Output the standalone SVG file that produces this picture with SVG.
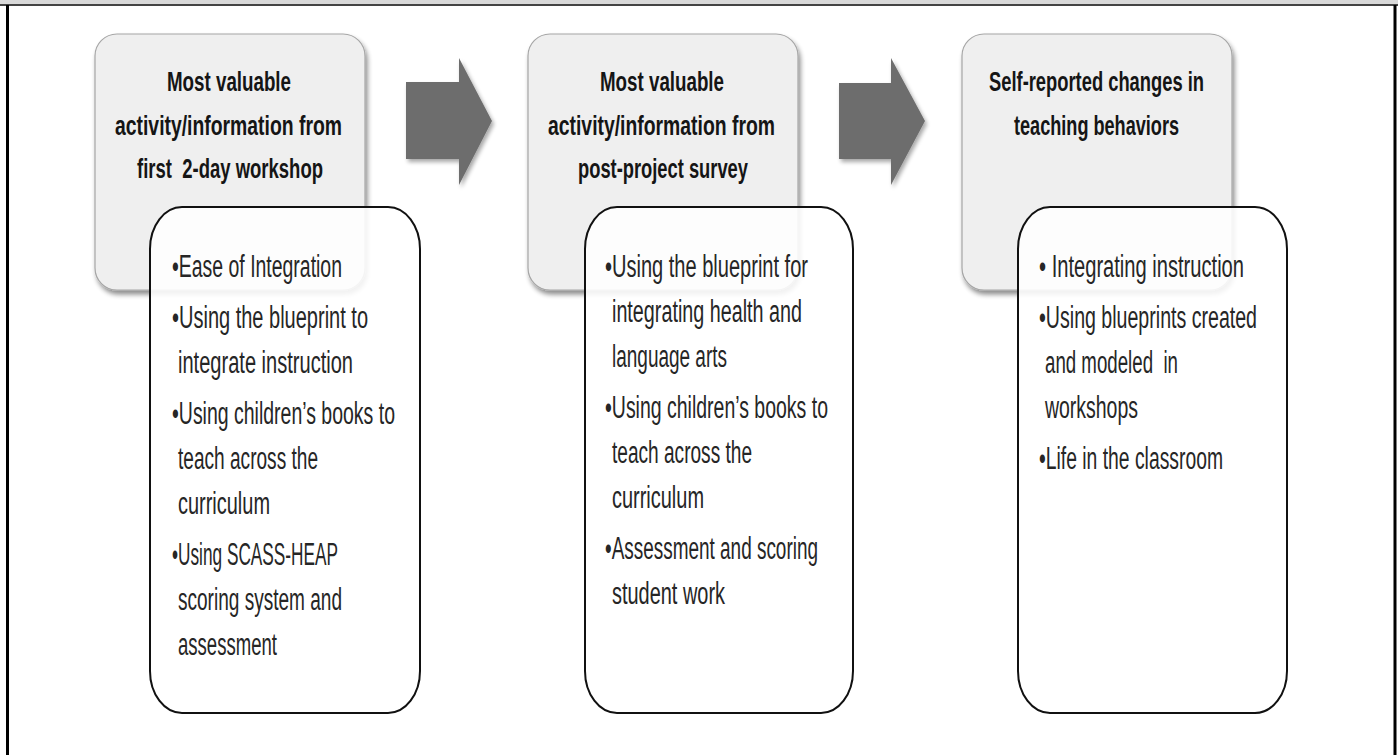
<svg xmlns="http://www.w3.org/2000/svg" width="1398" height="755" viewBox="0 0 1398 755">
<defs>
<filter id="sh" x="-10%" y="-10%" width="125%" height="130%">
<feGaussianBlur in="SourceAlpha" stdDeviation="2.5"/>
<feOffset dx="2" dy="4" result="b"/>
<feComponentTransfer><feFuncA type="linear" slope="0.45"/></feComponentTransfer>
<feMerge><feMergeNode/><feMergeNode in="SourceGraphic"/></feMerge>
</filter>
<filter id="ash" x="-20%" y="-20%" width="150%" height="150%">
<feGaussianBlur in="SourceAlpha" stdDeviation="2"/>
<feOffset dx="2" dy="3" result="b"/>
<feComponentTransfer><feFuncA type="linear" slope="0.35"/></feComponentTransfer>
<feMerge><feMergeNode/><feMergeNode in="SourceGraphic"/></feMerge>
</filter>
</defs>
<style>
text{white-space:pre}
.head{fill:#efefef;stroke:#a6a6a6;stroke-width:1.2}
.list{fill:#ffffff;fill-opacity:0.88;stroke:#111;stroke-width:2}
.t{font-family:"Liberation Sans",Arial,sans-serif;font-weight:bold;font-size:28px;fill:#151515}
.b{font-family:"Liberation Sans",Arial,sans-serif;font-size:31px;fill:#262626}
.arrow{fill:#6d6d6d}
</style>
<rect x="0" y="0" width="1398" height="755" fill="#ffffff"/>
<g id="frame">
<rect x="0" y="0" width="1398" height="5" fill="#d9d9d9"/>
<line x1="0" y1="5" x2="1398" y2="5" stroke="#444" stroke-width="2"/>
<line x1="7.5" y1="5" x2="7.5" y2="755" stroke="#000" stroke-width="3"/>
<line x1="1395" y1="5" x2="1395" y2="755" stroke="#000" stroke-width="3"/>
</g>
<g id="connectors">
<polygon class="arrow" filter="url(#ash)" points="406,82 459,82 459,58 492,121 459,185 459,159 406,159"/>
<polygon class="arrow" filter="url(#ash)" points="839,83 891,83 891,58 925,121 891,185 891,159 839,159"/>
</g>
<g id="node1">
<rect class="head" filter="url(#sh)" x="95" y="34" width="270" height="256" rx="22" ry="22"/>
<text class="t" x="167" y="91" textLength="124" lengthAdjust="spacingAndGlyphs">Most valuable</text>
<text class="t" x="115" y="135" textLength="227" lengthAdjust="spacingAndGlyphs">activity/information from</text>
<text class="t" x="137" y="178" textLength="186" lengthAdjust="spacingAndGlyphs">first  2-day workshop</text>
<rect class="list" x="150" y="207" width="270" height="506" rx="32" ry="42"/>
<text class="b" x="172" y="277" textLength="170" lengthAdjust="spacingAndGlyphs">•Ease of Integration</text>
<text class="b" x="172" y="328" textLength="196" lengthAdjust="spacingAndGlyphs">•Using the blueprint to</text>
<text class="b" x="178" y="373" textLength="175" lengthAdjust="spacingAndGlyphs">integrate instruction</text>
<text class="b" x="172" y="424" textLength="223" lengthAdjust="spacingAndGlyphs">•Using children’s books to</text>
<text class="b" x="178" y="469" textLength="140" lengthAdjust="spacingAndGlyphs">teach across the</text>
<text class="b" x="178" y="514" textLength="92" lengthAdjust="spacingAndGlyphs">curriculum</text>
<text class="b" x="172" y="565" textLength="166" lengthAdjust="spacingAndGlyphs">•Using SCASS-HEAP</text>
<text class="b" x="178" y="610" textLength="164" lengthAdjust="spacingAndGlyphs">scoring system and</text>
<text class="b" x="178" y="655" textLength="99" lengthAdjust="spacingAndGlyphs">assessment</text>
</g>
<g id="node2">
<rect class="head" filter="url(#sh)" x="528" y="34" width="270" height="256" rx="22" ry="22"/>
<text class="t" x="600" y="91" textLength="124" lengthAdjust="spacingAndGlyphs">Most valuable</text>
<text class="t" x="548" y="135" textLength="227" lengthAdjust="spacingAndGlyphs">activity/information from</text>
<text class="t" x="578" y="178" textLength="170" lengthAdjust="spacingAndGlyphs">post-project survey</text>
<rect class="list" x="585" y="207" width="268" height="506" rx="32" ry="42"/>
<text class="b" x="605" y="277" textLength="203" lengthAdjust="spacingAndGlyphs">•Using the blueprint for</text>
<text class="b" x="612" y="322" textLength="190" lengthAdjust="spacingAndGlyphs">integrating health and</text>
<text class="b" x="612" y="367" textLength="115" lengthAdjust="spacingAndGlyphs">language arts</text>
<text class="b" x="605" y="418" textLength="223" lengthAdjust="spacingAndGlyphs">•Using children’s books to</text>
<text class="b" x="612" y="463" textLength="140" lengthAdjust="spacingAndGlyphs">teach across the</text>
<text class="b" x="612" y="508" textLength="92" lengthAdjust="spacingAndGlyphs">curriculum</text>
<text class="b" x="605" y="559" textLength="213" lengthAdjust="spacingAndGlyphs">•Assessment and scoring</text>
<text class="b" x="612" y="604" textLength="113" lengthAdjust="spacingAndGlyphs">student work</text>
</g>
<g id="node3">
<rect class="head" filter="url(#sh)" x="962" y="34" width="270" height="256" rx="22" ry="22"/>
<text class="t" x="989" y="91" textLength="215" lengthAdjust="spacingAndGlyphs">Self-reported changes in</text>
<text class="t" x="1014" y="135" textLength="165" lengthAdjust="spacingAndGlyphs">teaching behaviors</text>
<rect class="list" x="1018" y="207" width="269" height="506" rx="32" ry="42"/>
<text class="b" x="1039" y="277" textLength="205" lengthAdjust="spacingAndGlyphs">• Integrating instruction</text>
<text class="b" x="1039" y="328" textLength="218" lengthAdjust="spacingAndGlyphs">•Using blueprints created</text>
<text class="b" x="1045" y="373" textLength="133" lengthAdjust="spacingAndGlyphs">and modeled  in</text>
<text class="b" x="1045" y="418" textLength="93" lengthAdjust="spacingAndGlyphs">workshops</text>
<text class="b" x="1039" y="469" textLength="184" lengthAdjust="spacingAndGlyphs">•Life in the classroom</text>
</g>
</svg>
